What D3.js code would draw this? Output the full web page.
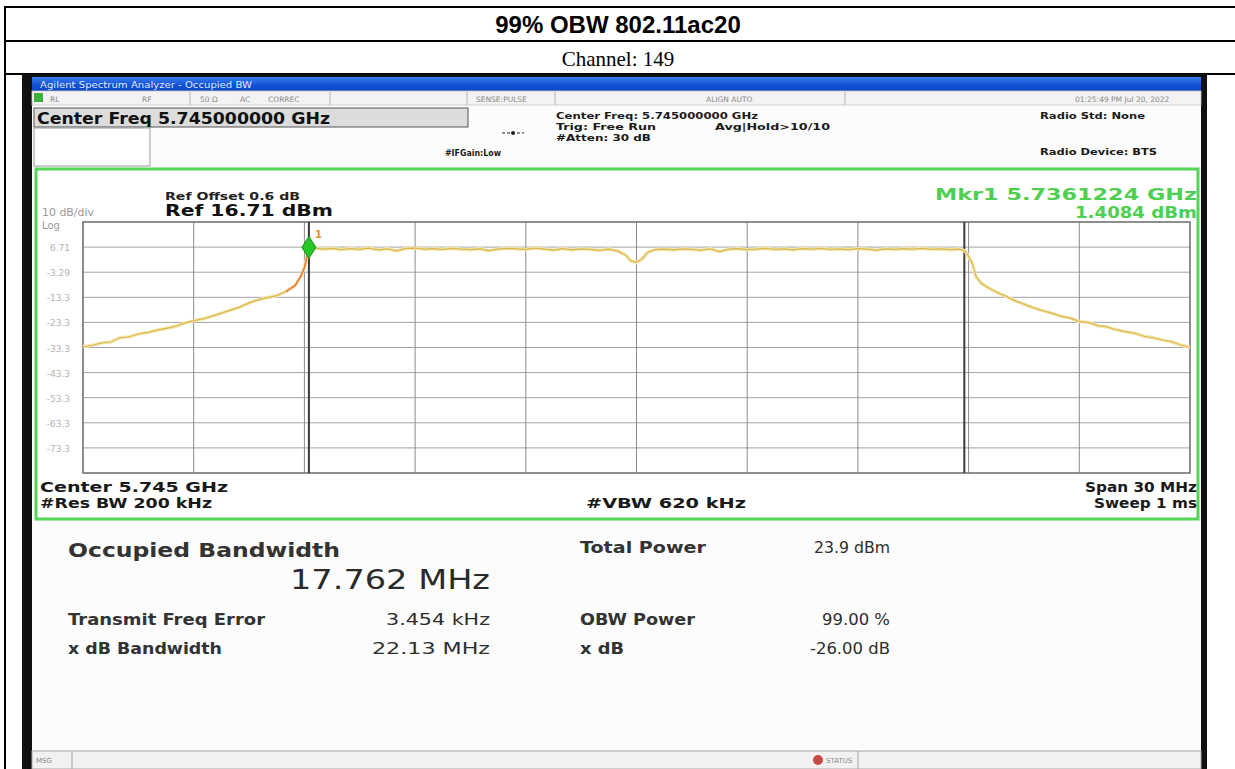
<!DOCTYPE html>
<html>
<head>
<meta charset="utf-8">
<title>99% OBW 802.11ac20</title>
<script src="https://cdn.jsdelivr.net/npm/d3@7"></script>
<style>
    body { margin: 0; background: #fff; }
    svg text { font-family: "DejaVu Sans", Verdana, sans-serif; }
</style>
</head>
<body>
<div id="chart"></div>
<script>

// ---- values ----

// trace: frequency in MHz, level in dBm (as it sits on the graticule)
const traceFreq = [
    5730.0, 5730.25, 5730.5, 5730.75, 5731.0, 5731.25, 5731.5, 5731.75, 5732.0, 5732.25,
    5732.5, 5732.75, 5733.0, 5733.25, 5733.5, 5733.75, 5734.0, 5734.25, 5734.5, 5734.75,
    5735.0, 5735.25, 5735.5, 5735.75, 5735.9, 5736.0, 5736.12,
    5736.25, 5736.5, 5736.75, 5737.0, 5737.25, 5737.5, 5737.75, 5738.0, 5738.25, 5738.5,
    5738.75, 5739.0, 5739.25, 5739.5, 5739.75, 5740.0, 5740.25, 5740.5, 5740.75, 5741.0,
    5741.25, 5741.5, 5741.75, 5742.0, 5742.25, 5742.5, 5742.75, 5743.0, 5743.25, 5743.5,
    5743.75, 5744.0, 5744.25, 5744.5, 5744.7, 5744.85, 5745.0, 5745.15, 5745.3, 5745.5,
    5745.75, 5746.0, 5746.25, 5746.5, 5746.75, 5747.0, 5747.25, 5747.5, 5747.75, 5748.0,
    5748.25, 5748.5, 5748.75, 5749.0, 5749.25, 5749.5, 5749.75, 5750.0, 5750.25, 5750.5,
    5750.75, 5751.0, 5751.25, 5751.5, 5751.75, 5752.0, 5752.25, 5752.5, 5752.75, 5753.0,
    5753.25, 5753.5, 5753.75, 5753.9,
    5754.0, 5754.1, 5754.2, 5754.35, 5754.5, 5754.75, 5755.0, 5755.25, 5755.5, 5755.75,
    5756.0, 5756.25, 5756.5, 5756.75, 5757.0, 5757.25, 5757.5, 5757.75, 5758.0, 5758.25,
    5758.5, 5758.75, 5759.0, 5759.25, 5759.5, 5759.75, 5760.0
];
const traceLevel = [
    -33.0, -32.4, -31.5, -31.1, -29.4, -29.0, -27.9, -27.3, -26.4, -25.7,
    -24.9, -23.6, -22.6, -21.9, -20.8, -19.6, -18.4, -17.2, -15.5, -14.3,
    -13.4, -12.6, -11.0, -8.6, -5.0, -1.5, 6.2,
    6.4, 5.9, 6.2, 5.7, 6.1, 5.8, 6.3, 5.6, 6.0, 5.2,
    6.2, 6.3, 5.9, 6.1, 5.8, 6.2, 5.9, 5.7, 6.0, 5.3,
    5.9, 6.2, 6.0, 5.8, 6.3, 5.9, 5.5, 6.1, 5.6, 6.0,
    5.8, 5.4, 5.9, 5.1, 3.6, 1.2, 0.6, 2.0, 4.6, 5.7,
    5.9, 5.6, 6.0, 5.8, 5.5, 6.0, 4.9, 5.9, 6.1, 5.7,
    5.9, 6.2, 5.8, 6.0, 5.6, 6.1, 5.9, 6.2, 5.8, 6.0,
    5.7, 6.1, 5.9, 5.5, 6.0, 5.8, 6.1, 5.9, 6.2, 5.8,
    6.0, 5.7, 5.9, 5.2,
    3.0, 0.2, -5.0, -7.8, -9.2, -11.2, -12.8, -14.6, -16.0, -17.4,
    -18.6, -19.6, -20.8, -21.6, -22.9, -23.3, -24.6, -25.1, -26.2, -27.0,
    -27.6, -28.8, -29.4, -30.3, -31.0, -32.3, -33.3
];

// graticule
const freqDomain = [5730, 5760];          // center 5.745 GHz, span 30 MHz
const levelDomain = [-83.29, 16.71];      // ref 16.71 dBm, 10 dB/div
const xGridFreq = [5733, 5736, 5739, 5742, 5745, 5748, 5751, 5754, 5757];
const yTickValues = [6.71, -3.29, -13.29, -23.29, -33.29, -43.29, -53.29, -63.29, -73.29];
const yTickLabels = ["6.71", "-3.29", "-13.3", "-23.3", "-33.3", "-43.3", "-53.3", "-63.3", "-73.3"];

// 99% OBW edges and marker 1
const obwEdges = [5736.1224, 5753.8844];
const markerFreq = 5736.1224;
const markerLevel = 6.6;

// measurement table
const resultLeftLabels = ["Transmit Freq Error", "x dB Bandwidth"];
const resultLeftValues = ["3.454 kHz", "22.13 MHz"];
const resultRightLabels = ["Total Power", "OBW Power", "x dB"];
const resultRightValues = ["23.9 dBm", "99.00 %", "-26.00 dB"];


// small helper, the screen text is a wide blurry font so widths are pinned
function addText(g, c) {
    let t = g.append("text")
        .attr("x", c.x).attr("y", c.y)
        .attr("text-anchor", c.anchor || "start")
        .attr("fill", c.fill || "#1a1a1a")
        .style("font-size", c.size + "px")
        .style("font-weight", c.bold ? "bold" : "normal")
        .text(c.text);
    if (c.family) t.style("font-family", c.family);
    if (c.w) t.attr("textLength", c.w).attr("lengthAdjust", "spacingAndGlyphs");
    return t;
}


/* * * * * * * * * * * * * *
*     class ObwVis          *
* * * * * * * * * * * * * */

class ObwVis {

    constructor(parentElement) {
        this.parentElement = parentElement;
        this.initVis();
    }

    initVis() {
        let vis = this;

        vis.width = 1235;
        vis.height = 769;

        vis.svg = d3.select("#" + vis.parentElement).append("svg")
            .attr("width", vis.width)
            .attr("height", vis.height)
            .style("display", "block");

        // graticule area inside the analyzer screen
        vis.plot = {left: 83, right: 1190, top: 222, bottom: 473};

        vis.x = d3.scaleLinear()
            .domain(freqDomain)
            .range([vis.plot.left, vis.plot.right]);

        vis.y = d3.scaleLinear()
            .domain(levelDomain)
            .range([vis.plot.bottom, vis.plot.top]);

        vis.drawHeader();
        vis.drawScreen();
        vis.drawGraticule();
        vis.drawTrace();
        vis.drawResults();
    }

    drawHeader() {
        let vis = this;
        let g = vis.svg.append("g").attr("class", "doc-table");

        // table lines
        [7, 41, 74].forEach(yy => {
            g.append("line")
                .attr("x1", 4).attr("x2", vis.width)
                .attr("y1", yy).attr("y2", yy)
                .attr("stroke", "#000").attr("stroke-width", 2);
        });
        g.append("line")
            .attr("x1", 5).attr("x2", 5)
            .attr("y1", 7).attr("y2", vis.height)
            .attr("stroke", "#000").attr("stroke-width", 2);

        addText(g, {x: 618, y: 33, anchor: "middle", size: 24, bold: true, fill: "#000",
            family: "'Liberation Sans', Arial, sans-serif", text: "99% OBW 802.11ac20"});
        addText(g, {x: 618, y: 66, anchor: "middle", size: 21, fill: "#000",
            family: "'Liberation Serif', 'Times New Roman', serif", text: "Channel: 149"});
    }

    drawScreen() {
        let vis = this;
        let g = vis.svg.append("g").attr("class", "screen");
        vis.screen = g;

        // black bezel + white screen
        g.append("rect")
            .attr("x", 22).attr("y", 74)
            .attr("width", 1185).attr("height", vis.height - 74)
            .attr("fill", "#111");
        g.append("rect")
            .attr("x", 32).attr("y", 77)
            .attr("width", 1169).attr("height", vis.height - 77)
            .attr("fill", "#fcfcfc");

        // title bar
        let grad = vis.svg.append("defs").append("linearGradient")
            .attr("id", "titleGrad").attr("x1", 0).attr("x2", 0).attr("y1", 0).attr("y2", 1);
        grad.append("stop").attr("offset", "0%").attr("stop-color", "#3b7ff0");
        grad.append("stop").attr("offset", "55%").attr("stop-color", "#1452d6");
        grad.append("stop").attr("offset", "100%").attr("stop-color", "#0c45c4");

        g.append("rect")
            .attr("x", 32).attr("y", 77)
            .attr("width", 1169).attr("height", 14)
            .attr("fill", "url(#titleGrad)");
        addText(g, {x: 40, y: 88, size: 9, fill: "#dfe8ff", w: 212,
            text: "Agilent Spectrum Analyzer - Occupied BW"});

        // status strip
        g.append("rect")
            .attr("x", 32).attr("y", 91)
            .attr("width", 1169).attr("height", 14)
            .attr("fill", "#f3f3f3")
            .attr("stroke", "#c8c8c8").attr("stroke-width", 0.8);
        g.append("rect")
            .attr("x", 34).attr("y", 93)
            .attr("width", 9).attr("height", 9)
            .attr("fill", "#3cb03c");

        let strip = [
            {x: 50, t: "RL"}, {x: 142, t: "RF"}, {x: 200, t: "50 Ω"}, {x: 240, t: "AC"},
            {x: 268, t: "CORREC"}, {x: 476, t: "SENSE:PULSE"}, {x: 706, t: "ALIGN AUTO"},
            {x: 1075, t: "01:25:49 PM Jul 20, 2022"}
        ];
        strip.forEach(d => addText(g, {x: d.x, y: 102, size: 7.5, fill: "#8a8a8a", text: d.t}));

        [190, 330, 467, 555, 845].forEach(xx => {
            g.append("line")
                .attr("x1", xx).attr("x2", xx).attr("y1", 92).attr("y2", 105)
                .attr("stroke", "#b5b5b5");
        });

        // big center freq box
        g.append("rect")
            .attr("x", 34).attr("y", 108)
            .attr("width", 434).attr("height", 19)
            .attr("fill", "#dcdcdc")
            .attr("stroke", "#555").attr("stroke-width", 1);
        addText(g, {x: 37, y: 124, size: 15, bold: true, fill: "#111", w: 293,
            text: "Center Freq 5.745000000 GHz"});

        // empty soft key box
        g.append("rect")
            .attr("x", 34).attr("y", 128)
            .attr("width", 116).attr("height", 38)
            .attr("fill", "#fff")
            .attr("stroke", "#999").attr("stroke-width", 1);

        let info = [
            {x: 556, y: 119, w: 202, t: "Center Freq: 5.745000000 GHz"},
            {x: 556, y: 130, w: 100, t: "Trig: Free Run"},
            {x: 556, y: 141, w: 95, t: "#Atten: 30 dB"},
            {x: 715, y: 130, w: 115, t: "Avg|Hold>10/10"},
            {x: 445, y: 156, w: 56, t: "#IFGain:Low"},
            {x: 1040, y: 119, w: 105, t: "Radio Std: None"},
            {x: 1040, y: 155, w: 117, t: "Radio Device: BTS"}
        ];
        info.forEach(d => addText(g, {x: d.x, y: d.y, size: 9.5, bold: true, w: d.w, text: d.t}));

        // trigger symbol
        g.append("line")
            .attr("x1", 502).attr("x2", 524).attr("y1", 133).attr("y2", 133)
            .attr("stroke", "#222").attr("stroke-width", 1.2)
            .attr("stroke-dasharray", "3,2");
        g.append("circle")
            .attr("cx", 513).attr("cy", 133).attr("r", 2)
            .attr("fill", "#222");

        // green frame around the trace window
        g.append("rect")
            .attr("x", 36).attr("y", 169)
            .attr("width", 1162).attr("height", 350)
            .attr("fill", "#fff")
            .attr("stroke", "#56d456").attr("stroke-width", 3);

        // marker readout
        addText(g, {x: 1197, y: 200, anchor: "end", size: 15, bold: true, fill: "#4fcf4f", w: 262,
            text: "Mkr1  5.7361224 GHz"});
        addText(g, {x: 1197, y: 218, anchor: "end", size: 15, bold: true, fill: "#4fcf4f", w: 122,
            text: "1.4084 dBm"});

        // ref level labels
        addText(g, {x: 165, y: 200, size: 11, bold: true, fill: "#222", w: 135, text: "Ref Offset 0.6 dB"});
        addText(g, {x: 165, y: 216, size: 15, bold: true, fill: "#111", w: 168, text: "Ref 16.71 dBm"});
        addText(g, {x: 42, y: 216, size: 10, fill: "#9a9a9a", w: 52, text: "10 dB/div"});
        addText(g, {x: 42, y: 229, size: 10, fill: "#9a9a9a", text: "Log"});

        // bottom annotation
        let bottomText = [
            {x: 40, y: 492, t: "Center  5.745 GHz", a: "start", w: 188},
            {x: 40, y: 508, t: "#Res BW  200 kHz", a: "start", w: 172},
            {x: 586, y: 508, t: "#VBW  620 kHz", a: "start", w: 160},
            {x: 1197, y: 492, t: "Span 30 MHz", a: "end", w: 112},
            {x: 1197, y: 508, t: "Sweep  1 ms", a: "end", w: 103}
        ];
        bottomText.forEach(d => addText(g, {x: d.x, y: d.y, anchor: d.a, size: 13.5, bold: true,
            w: d.w, text: d.t}));
    }

    drawGraticule() {
        let vis = this;
        let g = vis.screen.append("g").attr("class", "graticule");
        let p = vis.plot;

        // horizontal lines
        g.selectAll(".hgrid").data(yTickValues).enter().append("line")
            .attr("class", "hgrid")
            .attr("x1", p.left).attr("x2", p.right)
            .attr("y1", d => vis.y(d)).attr("y2", d => vis.y(d))
            .attr("stroke", "#a3a3a3").attr("stroke-width", 1);

        // vertical lines
        g.selectAll(".vgrid").data(xGridFreq).enter().append("line")
            .attr("class", "vgrid")
            .attr("x1", d => vis.x(d)).attr("x2", d => vis.x(d))
            .attr("y1", p.top).attr("y2", p.bottom)
            .attr("stroke", "#8c8c8c").attr("stroke-width", 1);

        g.append("rect")
            .attr("x", p.left).attr("y", p.top)
            .attr("width", p.right - p.left).attr("height", p.bottom - p.top)
            .attr("fill", "none")
            .attr("stroke", "#6a6a6a").attr("stroke-width", 1.5);

        // y labels (faint, like the original)
        g.selectAll(".ylab").data(yTickValues).enter().append("text")
            .attr("class", "ylab")
            .attr("x", 70)
            .attr("y", d => vis.y(d) + 4)
            .attr("text-anchor", "end")
            .attr("fill", "#b4b4b4")
            .style("font-size", "9px")
            .text((d, i) => yTickLabels[i]);

        // OBW edge lines
        g.selectAll(".obw").data(obwEdges).enter().append("line")
            .attr("class", "obw")
            .attr("x1", d => vis.x(d)).attr("x2", d => vis.x(d))
            .attr("y1", p.top).attr("y2", p.bottom)
            .attr("stroke", "#3a3a3a").attr("stroke-width", 2);
    }

    drawTrace() {
        let vis = this;

        vis.displayData = traceFreq.map((f, i) => ({freq: f, level: traceLevel[i]}));

        let line = d3.line()
            .x(d => vis.x(d.freq))
            .y(d => vis.y(d.level));

        // soft halo, then the trace itself
        vis.screen.append("path")
            .datum(vis.displayData)
            .attr("d", line)
            .attr("fill", "none")
            .attr("stroke", "#f4e7b4")
            .attr("stroke-width", 3.5);

        vis.screen.append("path")
            .datum(vis.displayData)
            .attr("d", line)
            .attr("fill", "none")
            .attr("stroke", "#dcb84a")
            .attr("stroke-width", 1.2);

        // orange near the rising edge at the marker
        let edge = vis.displayData.filter(d => d.freq >= 5735.5 && d.freq <= 5736.12);
        vis.screen.append("path")
            .datum(edge)
            .attr("d", line)
            .attr("fill", "none")
            .attr("stroke", "#f07a3a")
            .attr("stroke-width", 1.6);

        // marker diamond
        let mx = vis.x(markerFreq), my = vis.y(markerLevel);
        vis.screen.append("path")
            .attr("d", `M${mx},${my - 11} L${mx + 7},${my} L${mx},${my + 11} L${mx - 7},${my} Z`)
            .attr("fill", "#26c626")
            .attr("stroke", "#169016").attr("stroke-width", 1);
        addText(vis.screen, {x: mx + 6, y: my - 9, size: 10, bold: true, fill: "#f08a30", text: "1"});
    }

    drawResults() {
        let vis = this;
        let g = vis.screen.append("g").attr("class", "results");

        addText(g, {x: 68, y: 557, size: 19, bold: true, fill: "#333", w: 272, text: "Occupied Bandwidth"});
        addText(g, {x: 490, y: 589, anchor: "end", size: 27, fill: "#2a2a2a", w: 200, text: "17.762 MHz"});

        let leftW = [197, 154], leftValW = [104, 118];
        resultLeftLabels.forEach((t, i) => addText(g, {x: 68, y: 625 + i * 29, size: 15, bold: true,
            fill: "#333", w: leftW[i], text: t}));
        resultLeftValues.forEach((t, i) => addText(g, {x: 490, y: 625 + i * 29, anchor: "end", size: 15,
            fill: "#2e2e2e", w: leftValW[i], text: t}));

        let rightY = [553, 625, 654], rightW = [126, 115, 44], rightValW = [76, 68, 80];
        resultRightLabels.forEach((t, i) => addText(g, {x: 580, y: rightY[i], size: 15, bold: true,
            fill: "#333", w: rightW[i], text: t}));
        resultRightValues.forEach((t, i) => addText(g, {x: 890, y: rightY[i], anchor: "end", size: 15,
            fill: "#2e2e2e", w: rightValW[i], text: t}));

        // status bar at the bottom of the screen
        g.append("rect")
            .attr("x", 32).attr("y", 751)
            .attr("width", 1169).attr("height", 18)
            .attr("fill", "#f1f1f1")
            .attr("stroke", "#a8a8a8").attr("stroke-width", 1);
        [72, 858].forEach(xx => {
            g.append("line")
                .attr("x1", xx).attr("x2", xx).attr("y1", 751).attr("y2", 769)
                .attr("stroke", "#a8a8a8");
        });
        addText(g, {x: 36, y: 763, size: 7, fill: "#888", text: "MSG"});
        g.append("circle")
            .attr("cx", 818).attr("cy", 760).attr("r", 5)
            .attr("fill", "#c84848");
        addText(g, {x: 826, y: 763, size: 7, fill: "#8a8a8a", text: "STATUS"});
    }
}

let obwVis = new ObwVis("chart");

</script>
</body>
</html>
